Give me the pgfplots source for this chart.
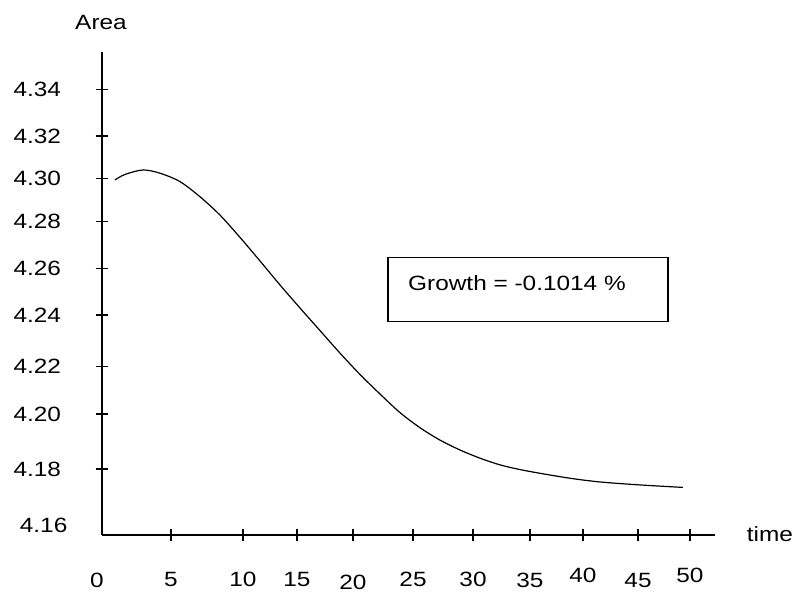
\documentclass[border=0pt]{standalone}
\usepackage{pgfplots}
\pgfplotsset{compat=1.18}
\usepackage{fontspec}
\setmainfont[FakeStretch=1.18]{Liberation Sans}
\begin{document}
\fontsize{15.5}{18}\selectfont
\begin{tikzpicture}
\begin{axis}[
  x=8.82pt, y=1858.5pt,
  xmin=0, xmax=52.13, ymin=4.16, ymax=4.3549,
  axis lines=left,
  axis line style={-, line width=1pt},
  clip=false,
  tick align=center,
  major tick length=9.5pt,
  tick style={line width=0.9pt, black},
  xtick={5.87,11.99,16.58,21.34,26.45,31.55,36.39,40.90,45.58,50.0},
  xticklabels={5,10,15,\raisebox{-2pt}{20},25,30,\raisebox{-0.5pt}{35},\raisebox{3pt}{40},\raisebox{-1pt}{45},\raisebox{3pt}{50}},
  ytick={4.1866,4.2088,4.2279,4.2488,4.2676,4.2864,4.3039,4.3210,4.3399},
  yticklabels={4.18,4.20,4.22,4.24,4.26,4.28,4.30,4.32,4.34},
  extra y ticks={4.164},
  extra y tick labels={4.16},
  extra y tick style={major tick length=0pt},
  /pgf/number format/assume math mode=true,
  x tick label style={anchor=base, inner sep=0pt, yshift=-34pt, font=\fontsize{15.5}{18}\selectfont},
  y tick label style={anchor=east, inner sep=0pt, xshift=-25.8pt, font=\fontsize{15.5}{18}\selectfont},
]
\addplot[black, line width=0.9pt, smooth, tension=0.5] coordinates {
(1.105,4.3033) (1.956,4.3055) (3.486,4.3073) (4.932,4.3060) (6.633,4.3026)
(8.333,4.2965) (10.034,4.2891) (11.735,4.2801) (13.435,4.2706) (15.136,4.2609)
(16.837,4.2516) (18.537,4.2425) (20.238,4.2334) (21.939,4.2248) (23.639,4.2169)
(25.340,4.2094) (27.041,4.2033) (28.741,4.1983) (30.442,4.1943) (32.143,4.1910)
(33.844,4.1883) (35.544,4.1864) (37.245,4.1849) (39.796,4.1829) (42.347,4.1814)
(45.748,4.1802) (49.405,4.1792)
};
\draw[line width=0.8pt] (axis cs:24.32,4.2718) rectangle (axis cs:48.13,4.2460);
\node[inner sep=0pt, anchor=center] at (axis cs:35.29,4.2617) {Growth = -0.1014 \%};
\node[inner sep=0pt, anchor=center] at (axis cs:-0.085,4.3670) {Area};
\node[inner sep=0pt, anchor=center] at (axis cs:56.8,4.1605) {time};
\node[inner sep=0pt, anchor=center] at (axis cs:-0.43,4.1418) {0};
\coordinate (tl) at (axis cs:-8.673,4.3759);
\coordinate (br) at (axis cs:59.10,4.1370);
\end{axis}
\pgfresetboundingbox
\path[use as bounding box] (tl) rectangle (br);
\end{tikzpicture}
\end{document}
